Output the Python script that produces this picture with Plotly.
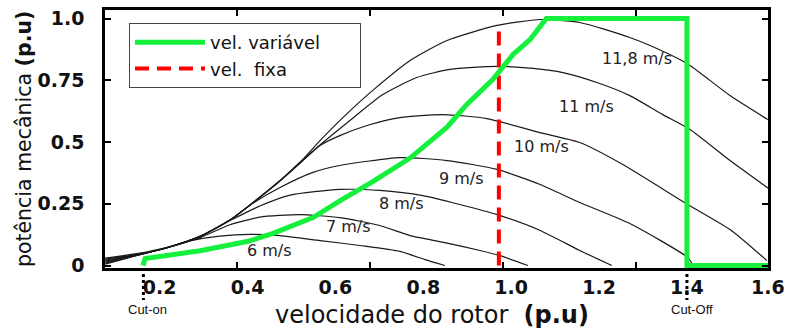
import plotly.graph_objects as go

# ---------------- data (rotor speed p.u, mechanical power p.u) ----------------
rotor_6 = [0.076, 0.155, 0.217, 0.269, 0.337, 0.406, 0.474, 0.565, 0.656, 0.747, 0.804, 0.849]
power_6 = [0.030, 0.050, 0.074, 0.100, 0.119, 0.126, 0.121, 0.101, 0.081, 0.057, 0.024, 0.0]

rotor_7 = [0.076, 0.155, 0.217, 0.292, 0.360, 0.428, 0.519, 0.610, 0.701, 0.770, 0.849, 0.929, 0.975, 1.038]
power_7 = [0.026, 0.047, 0.073, 0.113, 0.165, 0.196, 0.206, 0.194, 0.162, 0.121, 0.093, 0.061, 0.040, 0.0]

rotor_8 = [0.076, 0.155, 0.217, 0.292, 0.360, 0.428, 0.497, 0.610, 0.701, 0.799, 0.883, 0.968, 1.066, 1.156, 1.229]
power_8 = [0.022, 0.046, 0.072, 0.118, 0.182, 0.241, 0.285, 0.308, 0.304, 0.283, 0.247, 0.206, 0.142, 0.061, 0.0]

rotor_9 = [0.076, 0.155, 0.217, 0.292, 0.360, 0.412, 0.474, 0.549, 0.610, 0.747, 0.854, 0.968, 1.066, 1.156, 1.270, 1.402, 1.414]
power_9 = [0.018, 0.045, 0.072, 0.118, 0.184, 0.252, 0.316, 0.377, 0.405, 0.437, 0.425, 0.389, 0.328, 0.255, 0.170, 0.032, 0.0]

rotor_10 = [0.076, 0.155, 0.217, 0.292, 0.360, 0.412, 0.474, 0.519, 0.565, 0.610, 0.672, 0.747, 0.845, 0.945, 1.066, 1.156, 1.254, 1.402, 1.498, 1.582]
power_10 = [0.014, 0.045, 0.072, 0.118, 0.184, 0.254, 0.342, 0.413, 0.486, 0.526, 0.567, 0.599, 0.611, 0.595, 0.538, 0.498, 0.409, 0.247, 0.146, 0.020]

rotor_11 = [0.076, 0.155, 0.217, 0.292, 0.360, 0.412, 0.474, 0.519, 0.553, 0.633, 0.708, 0.785, 0.861, 0.968, 1.050, 1.118, 1.195, 1.270, 1.345, 1.407, 1.498, 1.589]
power_11 = [0.010, 0.044, 0.072, 0.118, 0.184, 0.254, 0.344, 0.417, 0.470, 0.587, 0.692, 0.761, 0.794, 0.806, 0.798, 0.781, 0.741, 0.688, 0.611, 0.551, 0.425, 0.308]

rotor_118 = [0.076, 0.155, 0.217, 0.292, 0.360, 0.412, 0.474, 0.519, 0.565, 0.617, 0.685, 0.770, 0.854, 0.968, 1.066, 1.156, 1.270, 1.361, 1.407, 1.498, 1.584]
power_118 = [0.006, 0.044, 0.072, 0.118, 0.184, 0.254, 0.344, 0.417, 0.506, 0.599, 0.709, 0.830, 0.911, 0.972, 0.996, 0.984, 0.923, 0.854, 0.810, 0.688, 0.591]

curve_rotor = [rotor_6, rotor_7, rotor_8, rotor_9, rotor_10, rotor_11, rotor_118]
curve_power = [power_6, power_7, power_8, power_9, power_10, power_11, power_118]

wind_labels = ["6 m/s", "7 m/s", "8 m/s", "9 m/s", "10 m/s", "11 m/s", "11,8 m/s"]
label_rotor = [0.451, 0.629, 0.751, 0.888, 1.068, 1.172, 1.286]
label_power = [0.061, 0.158, 0.251, 0.352, 0.482, 0.644, 0.838]

variable_rotor = [0.162, 0.167, 0.292, 0.399, 0.458, 0.549, 0.610, 0.685, 0.770, 0.854, 0.899, 0.958, 1.004, 1.043, 1.080, 1.40, 1.40, 1.60]
variable_power = [0.0, 0.028, 0.060, 0.097, 0.130, 0.194, 0.262, 0.340, 0.435, 0.560, 0.652, 0.753, 0.854, 0.915, 1.0, 1.0, 0.0, 0.0]

fixed_rotor = [0.972, 0.972]
fixed_power = [0.0, 0.972]

cut_on = 0.163
cut_off = 1.40

x_tick_vals = [0.2, 0.4, 0.6, 0.8, 1.0, 1.2, 1.4, 1.584]
x_tick_text = ["0.2", "0.4", "0.6", "0.8", "1.0", "1.2", "1.4", "1.6"]
x_mark_vals = [0.376, 0.679, 0.981, 1.284]
y_tick_vals = [0, 0.25, 0.5, 0.75, 1.0]
y_tick_text = ["0", "0.25", "0.5", "0.75", "1.0"]

X_RANGE = [0.0756, 1.5845]
Y_RANGE = [-0.010, 1.0345]

NBSP = "\u00a0"

# ---------------- figure ----------------
fig = go.Figure()

for xs, ys in zip(curve_rotor, curve_power):
    fig.add_trace(go.Scatter(x=xs, y=ys, mode="lines",
                             line=dict(color="#1a1a1a", width=1.2, shape="spline", smoothing=0.6),
                             showlegend=False, hoverinfo="skip"))

fig.add_trace(go.Scatter(x=fixed_rotor, y=fixed_power, mode="lines", name="vel.  fixa",
                         line=dict(color="#ff0000", width=4, dash="14px,8px"), legendrank=2))
fig.add_trace(go.Scatter(x=variable_rotor, y=variable_power, mode="lines",
                         name="vel. variável" + NBSP * 6,
                         line=dict(color="#14f03c", width=5), legendrank=1))

# dummy trace for the secondary (tick-mark) x axis
fig.add_trace(go.Scatter(x=[None], y=[None], xaxis="x2", yaxis="y", mode="lines",
                         showlegend=False, hoverinfo="skip"))

for txt, xv, yv in zip(wind_labels, label_rotor, label_power):
    fig.add_annotation(x=xv, y=yv, text=txt, showarrow=False,
                       font=dict(family="DejaVu Sans", size=16, color="#222"))

for xv, txt, shift in [(cut_on, "Cut-on", 4), (cut_off, "Cut-Off", 5)]:
    fig.add_shape(type="line", xref="x", yref="paper", x0=xv, x1=xv, y0=0, y1=-0.124,
                  line=dict(color="black", width=3, dash="dot"), layer="above")
    fig.add_annotation(x=xv, xref="x", y=-0.159, yref="paper", yanchor="middle", text=txt,
                       showarrow=False, xshift=shift,
                       font=dict(family="Liberation Sans", size=13, color="#111"))

# axis titles
fig.add_annotation(x=0.493, y=-0.182, xref="paper", yref="paper", xanchor="center", yanchor="middle",
                   text="velocidade do rotor  <b>(p.u)</b>", showarrow=False,
                   font=dict(family="DejaVu Sans", size=24, color="#111"))
fig.add_annotation(x=-0.122, y=0.5, xref="paper", yref="paper", xanchor="center", yanchor="middle",
                   text="potência mecânica <b>(p.u)</b>", showarrow=False, textangle=-90,
                   font=dict(family="DejaVu Sans", size=20.5, color="#111"))

fig.update_layout(
    width=791, height=331,
    margin=dict(l=105, r=23, t=10, b=63, autoexpand=False),
    paper_bgcolor="white", plot_bgcolor="white",
    showlegend=True,
    legend=dict(x=0.0362, y=0.9496, xanchor="left", yanchor="top",
                bordercolor="#444", borderwidth=1, bgcolor="white",
                font=dict(family="DejaVu Sans", size=18, color="#111"),
                itemwidth=70, tracegroupgap=0),
    xaxis=dict(range=X_RANGE, tickvals=x_tick_vals, ticktext=x_tick_text, ticks="",
               showline=True, linecolor="black", linewidth=2.5, mirror=True, automargin=False,
               showgrid=False, zeroline=False, ticklabelstandoff=0,
               tickfont=dict(family="DejaVu Sans", size=19, color="#111", weight="bold")),
    xaxis2=dict(range=X_RANGE, overlaying="x", anchor="y", side="bottom", automargin=False,
                tickvals=x_mark_vals, ticks="inside", ticklen=6, tickwidth=2, tickcolor="black",
                mirror="ticks", showline=False, showticklabels=False, showgrid=False, zeroline=False),
    yaxis=dict(range=Y_RANGE, tickvals=y_tick_vals, ticktext=y_tick_text, automargin=False,
               ticks="inside", ticklen=6, tickwidth=2, tickcolor="black",
               showline=True, linecolor="black", linewidth=2.5, mirror="ticks",
               showgrid=False, zeroline=False, ticklabelstandoff=14,
               tickfont=dict(family="DejaVu Sans", size=19, color="#111", weight="bold")),
)

fig.write_html("out.html")
